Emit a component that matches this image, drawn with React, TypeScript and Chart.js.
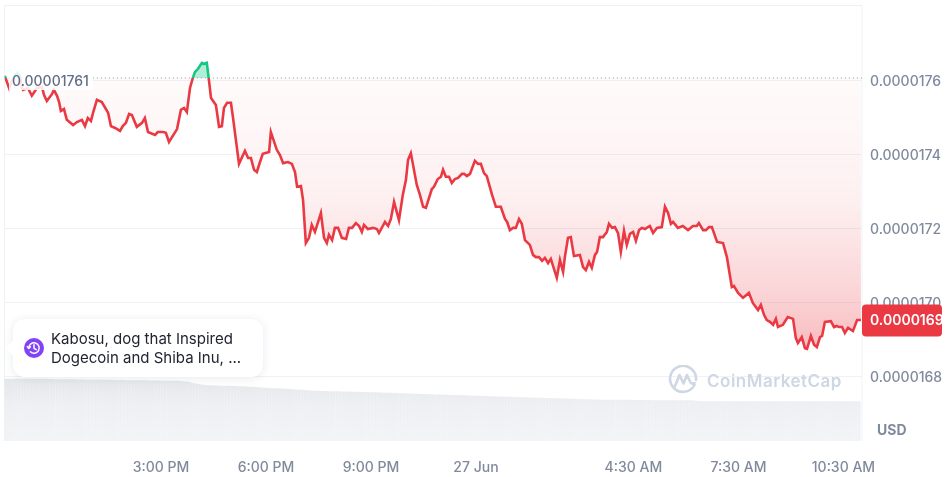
import React, { useEffect, useRef } from "react";
import { Chart, registerables } from "chart.js";

Chart.register(...registerables);

// Time of each vertex, in hours counted from midnight on 26 Jun.
const hours = [
  10.54,10.60,10.66,10.71,10.77,10.83,10.89,10.97,11.03,11.06,11.20,11.31,11.46,11.60,11.66,11.74,11.89,11.94,12.03,12.09,
  12.14,12.23,12.31,12.49,12.60,12.74,12.83,12.91,13.00,13.06,13.17,13.31,13.49,13.57,13.69,13.83,13.91,14.00,14.09,14.17,
  14.31,14.46,14.54,14.63,14.83,14.91,15.06,15.14,15.23,15.46,15.57,15.66,15.74,15.83,15.91,15.97,16.06,16.17,16.23,16.31,
  16.37,16.43,16.57,16.66,16.74,16.80,16.89,17.00,17.06,17.23,17.40,17.49,17.57,17.66,17.74,17.83,17.91,18.09,18.14,18.31,
  18.40,18.49,18.63,18.74,18.83,18.89,19.00,19.06,19.14,19.23,19.31,19.40,19.57,19.66,19.74,19.80,19.89,19.97,20.06,20.17,
  20.29,20.37,20.46,20.57,20.66,20.74,20.80,20.91,21.06,21.17,21.23,21.40,21.49,21.57,21.66,21.80,21.91,22.00,22.06,22.14,
  22.31,22.40,22.49,22.57,22.74,22.80,22.91,23.00,23.06,23.14,23.23,23.31,23.40,23.49,23.60,23.66,23.74,23.83,23.97,24.06,
  24.14,24.23,24.31,24.46,24.57,24.71,24.83,24.89,24.97,25.06,25.14,25.23,25.31,25.40,25.54,25.63,25.71,25.80,25.89,25.97,
  26.06,26.14,26.31,26.40,26.49,26.54,26.63,26.71,26.80,26.97,27.06,27.14,27.23,27.31,27.40,27.46,27.54,27.63,27.74,27.80,
  27.89,27.97,28.06,28.14,28.23,28.31,28.40,28.49,28.57,28.66,28.74,28.83,28.91,28.97,29.06,29.17,29.31,29.40,29.49,29.57,
  29.63,29.77,29.91,30.06,30.20,30.31,30.37,30.49,30.57,30.66,30.74,30.89,31.06,31.17,31.31,31.37,31.49,31.63,31.80,31.91,
  32.06,32.14,32.23,32.31,32.40,32.49,32.57,32.63,32.77,32.91,33.06,33.14,33.20,33.31,33.40,33.46,33.57,33.66,33.74,33.83,
  33.89,33.97,34.14,34.23,34.31,34.37,34.46,34.54,34.63,34.77,34.89,35.00,
];

// Price at each vertex, in millionths of a dollar.
const prices = [
  17.612,17.595,17.579,17.590,17.603,17.614,17.620,17.612,17.579,17.574,17.579,17.558,17.579,17.582,17.560,17.544,17.563,17.574,17.558,17.541,
  17.517,17.522,17.493,17.479,17.487,17.493,17.476,17.498,17.490,17.512,17.547,17.541,17.512,17.476,17.471,17.463,17.476,17.485,17.509,17.506,
  17.474,17.485,17.498,17.460,17.452,17.460,17.460,17.458,17.433,17.468,17.520,17.525,17.514,17.579,17.606,17.622,17.631,17.647,17.644,17.647,
  17.601,17.552,17.533,17.474,17.476,17.525,17.539,17.539,17.498,17.374,17.409,17.390,17.390,17.358,17.352,17.379,17.401,17.406,17.460,17.412,
  17.398,17.376,17.379,17.374,17.352,17.312,17.314,17.276,17.160,17.174,17.209,17.190,17.241,17.174,17.160,17.182,17.168,17.201,17.201,17.174,
  17.171,17.201,17.201,17.214,17.206,17.190,17.209,17.198,17.201,17.198,17.187,17.217,17.206,17.225,17.271,17.222,17.290,17.331,17.385,17.403,
  17.317,17.290,17.258,17.255,17.306,17.312,17.333,17.339,17.358,17.339,17.339,17.322,17.333,17.336,17.347,17.347,17.341,17.347,17.382,17.374,
  17.374,17.349,17.341,17.290,17.258,17.258,17.225,17.217,17.195,17.201,17.201,17.225,17.212,17.168,17.155,17.128,17.122,17.122,17.112,17.120,
  17.106,17.117,17.066,17.114,17.082,17.122,17.174,17.176,17.125,17.128,17.095,17.087,17.109,17.093,17.128,17.136,17.176,17.176,17.190,17.212,
  17.201,17.203,17.187,17.136,17.193,17.155,17.185,17.190,17.166,17.195,17.201,17.198,17.203,17.206,17.187,17.201,17.203,17.258,17.241,17.212,
  17.217,17.201,17.206,17.195,17.206,17.206,17.214,17.195,17.195,17.203,17.203,17.163,17.160,17.122,17.041,17.044,17.025,17.012,17.025,16.998,
  16.979,16.993,16.966,16.952,16.947,16.939,16.955,16.933,16.939,16.960,16.955,16.903,16.890,16.906,16.876,16.874,16.909,16.885,16.879,16.906,
  16.909,16.947,16.949,16.933,16.936,16.933,16.933,16.917,16.931,16.922,16.952,16.952,
];

// Volume bars, one per five minutes, in arbitrary relative units.
const volumes = [
  62,62,62,62,62.2,62,61.8,62,62,62,61.8,62,62,61.8,61.8,61.6,61.6,61.5,61.5,61.5,61.4,61.4,61.3,61.3,61.3,61.2,61.2,61.2,61,61,
  61,61,60.9,60.9,60.8,60.8,60.8,60.7,60.7,60.6,60.6,60.6,60.5,60.5,60.4,60.4,60.3,60.3,60.3,60.2,60.2,60.2,60.1,60.1,60,60,60,60,60,59.9,
  59.8,59.5,59.2,58.8,58.2,57.5,57,56.5,56,55.6,55.4,55.3,55.2,55.1,55,55,54.9,54.8,54.7,54.6,54.5,54.4,54.3,54.2,54,53.8,53.6,53.4,53.2,53,
  52.8,52.6,52.5,52.4,52.3,52.2,52,51.8,51.6,51.4,51.2,51,50.8,50.6,50.4,50.2,50,49.9,49.8,49.7,49.6,49.5,49.4,49.4,49.3,49.2,49.2,49.1,49.1,49,
  49,48.9,48.8,48.7,48.6,48.5,48.4,48.3,48.2,48.1,48,47.9,47.8,47.7,47.6,47.5,47.4,47.3,47.2,47.1,47,46.9,46.8,46.7,46.6,46.5,46.4,46.3,46.2,46.1,
  46,45.9,45.8,45.7,45.6,45.6,45.5,45.4,45.3,45.2,45.1,45,44.9,44.8,44.7,44.6,44.5,44.4,44.3,44.2,44.1,44,44,43.9,43.8,43.7,43.6,43.5,43.4,43.3,
  43.2,43.1,43,42.9,42.8,42.7,42.6,42.5,42.5,42.4,42.3,42.2,42.1,42,41.9,41.8,41.7,41.6,41.5,41.4,41.3,41.2,41.2,41.1,41.1,41,41,41,41,40.9,
  40.9,40.9,40.8,40.8,40.8,40.7,40.7,40.7,40.6,40.6,40.6,40.6,40.5,40.5,40.5,40.5,40.5,40.5,40.5,40.5,40.5,40.5,40.5,40.4,40.4,40.4,40.4,40,39.6,39.5,
  39.5,39.5,39.5,39.5,39.5,39.5,39.4,39.4,39.4,39.4,39.4,39.4,39.4,39.4,39.4,39.4,39.4,39.4,39.4,39.4,39.4,39.4,39.4,39.4,39.4,39.4,39.4,39.4,39.4,39.4,
  39.4,39.4,39.4,39.4,39.4,39.4,39.4,39.4,39.4,39.4,39.4,39.4,39.4,39.4,39.4,39.4,39.4,39.4,39.4,39.4,39.4,39.4,39.4,39.4,
];

const volumeStartHour = 10.53;

const xTickHours = [15, 18, 21, 24, 28.5, 31.5, 34.5];
const xTickLabels = ["3:00 PM", "6:00 PM", "9:00 PM", "27 Jun", "4:30 AM", "7:30 AM", "10:30 AM"];
const yTicks = [17.6, 17.4, 17.2, 17.0, 16.8];

const baselinePrice = 17.606;
const baselineLabel = "0.00001761";
const lastPriceLabel = "0.0000169";
const currencyLabel = "USD";
const newsLines = ["Kabosu, dog that Inspired", "Dogecoin and Shiba Inu, ..."];
const watermark = "CoinMarketCap";

const FONT = "Inter, 'Noto Sans', sans-serif";
const GREY = "#808a9d";
const RED = "#ea3943";
const GREEN = "#16c784";
const GRID = "#eff2f5";

export default function App() {
  const ref = useRef<HTMLCanvasElement | null>(null);

  useEffect(() => {
    const canvas = ref.current!;
    const ctx = canvas.getContext("2d")!;

    const lineColor = ctx.createLinearGradient(0, 0, 0, 477);
    const stop = 78.3 / 477;
    lineColor.addColorStop(0, GREEN);
    lineColor.addColorStop(stop, GREEN);
    lineColor.addColorStop(stop, RED);
    lineColor.addColorStop(1, RED);

    const belowFill = ctx.createLinearGradient(0, 78, 0, 350);
    belowFill.addColorStop(0, "rgba(234,57,67,0.02)");
    belowFill.addColorStop(0.45, "rgba(234,57,67,0.08)");
    belowFill.addColorStop(0.8, "rgba(234,57,67,0.22)");
    belowFill.addColorStop(1, "rgba(234,57,67,0.34)");

    const volumeFill = ctx.createLinearGradient(0, 378, 0, 441);
    volumeFill.addColorStop(0, "#e4e7ea");
    volumeFill.addColorStop(0.4, "#edeff2");
    volumeFill.addColorStop(1, "#f2f4f6");

    const overlay = {
      id: "overlay",
      beforeDatasetsDraw(chart: any) {
        const { left, right, top, bottom } = chart.chartArea;
        const c = chart.ctx;
        c.save();
        c.strokeStyle = GRID;
        c.lineWidth = 1;
        c.beginPath();
        c.moveTo(left, top);
        c.lineTo(left, bottom);
        c.moveTo(right, top);
        c.lineTo(right, bottom);
        c.stroke();
        c.restore();
      },
      afterDraw(chart: any) {
        const c = chart.ctx;
        const yBase = chart.scales.y.getPixelForValue(baselinePrice);
        c.save();
        c.fillStyle = "rgba(255,255,255,0.86)";
        c.fillRect(9, yBase - 9, 84, 21);
        c.font = `500 14px ${FONT}`;
        c.fillStyle = "#616e85";
        c.textBaseline = "middle";
        c.textAlign = "left";
        c.fillText(baselineLabel, 12, yBase + 3.5);

        const yLast = chart.scales.y.getPixelForValue(prices[prices.length - 1]);
        c.fillStyle = RED;
        c.beginPath();
        c.roundRect(862, yLast - 15.5, 80, 32, 4);
        c.fill();
        c.fillStyle = "#ffffff";
        c.font = `600 14px ${FONT}`;
        c.fillText(lastPriceLabel, 870, yLast + 1);

        c.fillStyle = GREY;
        c.font = `700 14px ${FONT}`;
        c.fillText(currencyLabel, 877, 431);
        c.restore();
      },
    };

    const chart = new Chart(canvas, {
      type: "line",
      data: {
        datasets: [
          {
            type: "line",
            data: hours.map((x, i) => ({ x, y: prices[i] })),
            borderColor: lineColor,
            borderWidth: 2.6,
            pointRadius: 0,
            tension: 0,
            fill: { value: baselinePrice, above: "rgba(22,199,132,0.32)", below: belowFill },
            order: 1,
            yAxisID: "y",
          },
          {
            type: "line",
            data: [
              { x: hours[0], y: baselinePrice },
              { x: hours[hours.length - 1] + 0.1, y: baselinePrice },
            ],
            borderColor: "#8a93a3",
            borderWidth: 1,
            borderDash: [1, 3],
            pointRadius: 0,
            fill: false,
            order: 2,
            yAxisID: "y",
          },
          {
            type: "bar",
            data: volumes.map((y, i) => ({ x: volumeStartHour + i / 12, y })),
            backgroundColor: volumeFill,
            borderWidth: 0,
            barThickness: 2.5,
            order: 3,
            yAxisID: "y2",
          },
        ],
      } as any,
      options: {
        responsive: false,
        animation: false,
        parsing: true,
        layout: { autoPadding: false, padding: { left: 4.5, top: 5.5, right: 0, bottom: 0 } },
        plugins: { legend: { display: false }, tooltip: { enabled: false } },
        events: [],
        scales: {
          x: {
            type: "linear",
            min: 10.53,
            max: 35.03,
            offset: false,
            grid: { display: false },
            border: { display: false },
            afterFit: (s: any) => {
              s.height = 36;
              s.paddingLeft = 0;
              s.paddingRight = 0;
            },
            afterBuildTicks: (s: any) => {
              s.ticks = xTickHours.map((value) => ({ value }));
            },
            ticks: {
              autoSkip: false,
              maxRotation: 0,
              padding: 10,
              color: GREY,
              font: { family: FONT, size: 14, weight: "500" },
              callback: (v: any) => xTickLabels[xTickHours.indexOf(Number(v))] ?? "",
            },
          },
          y: {
            position: "right",
            min: 16.625,
            max: 17.802,
            grid: { color: GRID, drawTicks: false, lineWidth: 1 },
            border: { display: false },
            afterFit: (s: any) => {
              s.width = 88;
              s.paddingTop = 0;
              s.paddingBottom = 0;
            },
            afterBuildTicks: (s: any) => {
              s.ticks = [17.802, ...yTicks].map((value) => ({ value }));
            },
            ticks: {
              autoSkip: false,
              padding: 8,
              labelOffset: 1.5,
              color: GREY,
              font: { family: FONT, size: 14, weight: "500" },
              callback: (v: any) => (yTicks.includes(Number(v)) ? (Number(v) / 1e6).toFixed(7) : ""),
            },
          },
          y2: { display: false, min: 0, max: 435.5 },
        },
      } as any,
      plugins: [overlay as any],
    });
    return () => chart.destroy();
  }, []);

  return (
    <div style={{ position: "fixed", left: 0, top: 0, width: 950, height: 477, background: "#fff", overflow: "hidden" }}>
      <canvas ref={ref} width={950} height={477} style={{ display: "block" }} />

      {/* Watermark */}
      <svg width={30} height={30} viewBox="0 0 30 30" style={{ position: "absolute", left: 668, top: 365 }}>
        <path
          d="M26.5 20 A13 13 0 1 1 28 15 M7 21 L11.5 10 L15.5 18.5 L19 10 L22.5 17.5 Q24 19.5 26.5 18"
          fill="none"
          stroke="#cfd6e4"
          strokeWidth={2.6}
          strokeLinecap="round"
          strokeLinejoin="round"
        />
      </svg>
      <div
        style={{
          position: "absolute",
          left: 707,
          top: 370,
          font: `600 17px ${FONT}`,
          letterSpacing: 0.5,
          lineHeight: "22px",
          color: "#cfd6e4",
        }}
      >
        {watermark}
      </div>

      {/* News card */}
      <div
        style={{
          position: "absolute",
          left: 13,
          top: 319,
          width: 250,
          height: 58,
          background: "#fff",
          borderRadius: 12,
          boxShadow: "0 1px 10px rgba(88,102,126,0.14)",
        }}
      >
        <div
          style={{
            position: "absolute",
            left: -5,
            top: 23,
            width: 12,
            height: 12,
            background: "#fff",
            transform: "rotate(45deg)",
          }}
        />
        <svg width={20} height={20} viewBox="0 0 20 20" style={{ position: "absolute", left: 11, top: 19 }}>
          <circle cx={10} cy={10} r={10} fill="#8143f5" />
          <path
            d="M4.8 10 A5.2 5.2 0 1 1 6.4 13.8 M3.3 8.6 L4.8 10.4 L6.4 8.8 M10 6.8 V10.3 L12.3 11.7"
            fill="none"
            stroke="#fff"
            strokeWidth={1.5}
            strokeLinecap="round"
            strokeLinejoin="round"
          />
        </svg>
        <div
          style={{
            position: "absolute",
            left: 38,
            top: 10,
            font: `400 15px ${FONT}`,
            lineHeight: "19px",
            color: "#222531",
            whiteSpace: "nowrap",
          }}
        >
          {newsLines.map((l) => (
            <div key={l}>{l}</div>
          ))}
        </div>
      </div>
    </div>
  );
}
